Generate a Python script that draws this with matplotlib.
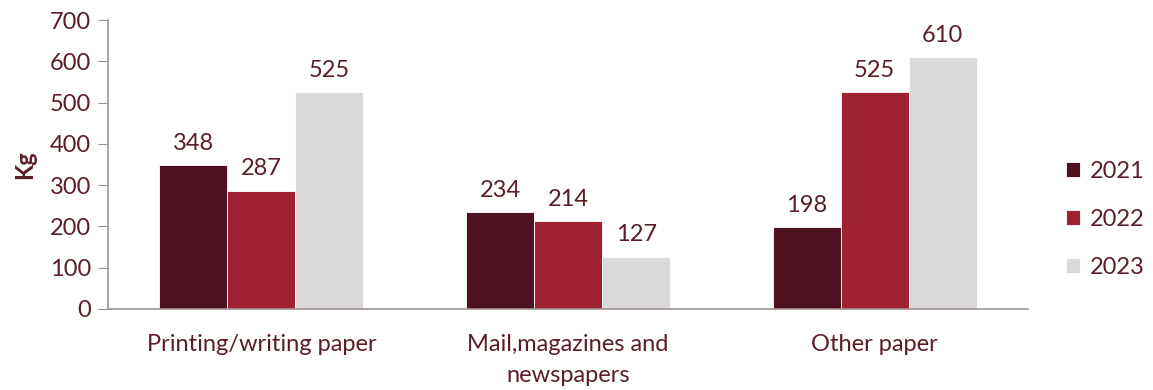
import numpy as np
import matplotlib.pyplot as plt

categories = ["Printing/writing paper", "Mail,magazines and\nnewspapers", "Other paper"]
years = ["2021", "2022", "2023"]
values_2021 = [348, 234, 198]
values_2022 = [287, 214, 525]
values_2023 = [525, 127, 610]

colors = ["#4F1220", "#9E2233", "#D9D9D9"]
text_color = "#5B1E26"
spine_color = "#A39193"

plt.rcParams["font.family"] = ["Lato", "DejaVu Sans"]
plt.rcParams["font.size"] = 17


def main():
    fig = plt.figure(figsize=(11.53, 3.9), dpi=100)
    ax = fig.add_axes([0.0937, 0.2077, 0.7979, 0.741])

    x = np.arange(len(categories))
    width = 0.222
    series = [values_2021, values_2022, values_2023]
    for i, (vals, year, col) in enumerate(zip(series, years, colors)):
        bars = ax.bar(x + (i - 1) * width, vals, width, color=col, label=year,
                      edgecolor="white", linewidth=0.6)
        ax.bar_label(bars, padding=8, color=text_color, fontsize=17)

    ax.set_xlim(-0.5, 2.5)
    ax.set_ylim(0, 700)
    ax.set_yticks(range(0, 701, 100))
    ax.set_xticks(x)
    ax.set_xticklabels(categories, color=text_color, fontsize=17, linespacing=1.6)
    ax.tick_params(axis="x", length=0, pad=18)
    ax.tick_params(axis="y", length=7, color=spine_color, labelcolor=text_color,
                   labelsize=17, pad=5)
    for s in ["top", "right"]:
        ax.spines[s].set_visible(False)
    for s in ["left", "bottom"]:
        ax.spines[s].set_color(spine_color)
        ax.spines[s].set_linewidth(1.2)

    ax.set_ylabel("Kg", color=text_color, fontweight="bold", fontsize=17, labelpad=10)

    ax.legend(loc="center left", bbox_to_anchor=(1.018, 0.31), frameon=False,
              handlelength=0.6, handleheight=0.6, handletextpad=0.4,
              labelspacing=1.15, labelcolor=text_color, fontsize=17)

    fig.savefig("out.png", dpi=100)


if __name__ == "__main__":
    main()
